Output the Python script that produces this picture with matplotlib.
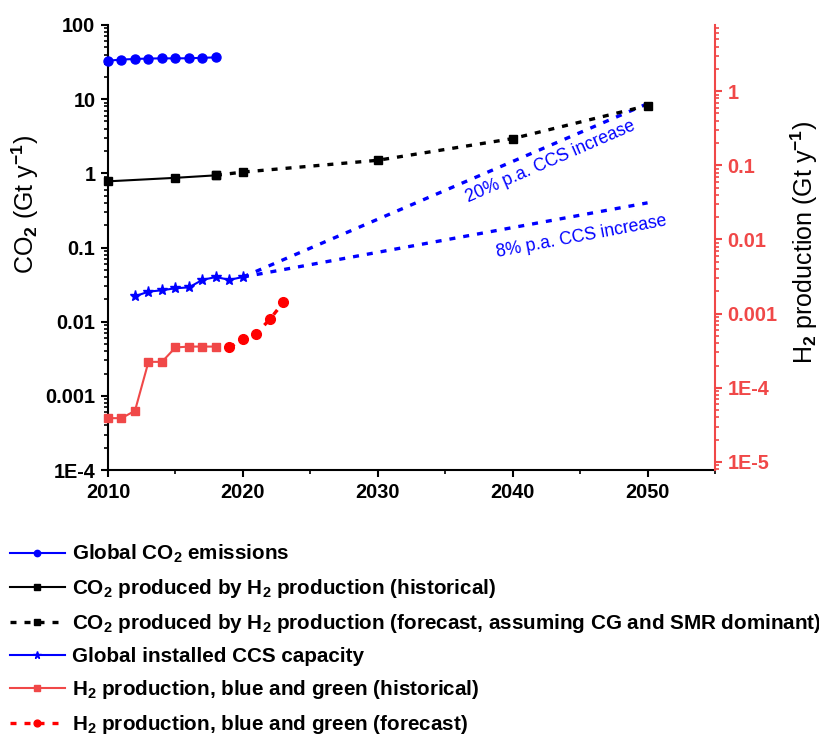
import matplotlib
matplotlib.use('Agg')
import matplotlib.pyplot as plt
from matplotlib.ticker import LogLocator, NullFormatter, MultipleLocator

plt.rcParams['font.family'] = ['Liberation Sans', 'DejaVu Sans']
plt.rcParams['font.weight'] = 'bold'
plt.rcParams['mathtext.fontset'] = 'custom'
plt.rcParams['mathtext.rm'] = 'Liberation Sans'
plt.rcParams['mathtext.bf'] = 'Liberation Sans:bold'
plt.rcParams['mathtext.it'] = 'Liberation Sans:italic'

# ---------------- data ----------------
years_emis = [2010, 2011, 2012, 2013, 2014, 2015, 2016, 2017, 2018]
co2_emis = [33.0, 34.2, 34.8, 35.3, 35.5, 35.5, 35.6, 36.1, 36.6]

years_h2co2_hist = [2010, 2015, 2018]
h2co2_hist = [0.78, 0.87, 0.94]

years_h2co2_fc = [2018, 2020, 2030, 2040, 2050]
h2co2_fc = [0.94, 1.04, 1.5, 2.94, 8.2]

years_ccs = [2012, 2013, 2014, 2015, 2016, 2017, 2018, 2019, 2020]
ccs_cap = [0.022, 0.0254, 0.0265, 0.0282, 0.029, 0.0366, 0.040, 0.0366, 0.040]

years_ccs_fc = [2020, 2050]
ccs_20pct = [0.040, 8.7]
ccs_8pct = [0.040, 0.40]

years_h2_hist = [2010, 2011, 2012, 2013, 2014, 2015, 2016, 2017, 2018]
h2_hist = [3.9e-5, 3.9e-5, 4.9e-5, 2.24e-4, 2.24e-4, 3.5e-4, 3.6e-4, 3.6e-4, 3.6e-4]

years_h2_fc = [2019, 2020, 2021, 2022, 2023]
h2_fc = [3.5e-4, 4.5e-4, 5.4e-4, 8.4e-4, 1.42e-3]

x_ticks = [2010, 2020, 2030, 2040, 2050]
x_tick_labels = ['2010', '2020', '2030', '2040', '2050']
left_ticks = [1e-4, 1e-3, 1e-2, 1e-1, 1, 10, 100]
left_tick_labels = ['1E-4', '0.001', '0.01', '0.1', '1', '10', '100']
right_ticks = [1e-5, 1e-4, 1e-3, 1e-2, 1e-1, 1]
right_tick_labels = ['1E-5', '1E-4', '0.001', '0.01', '0.1', '1']

labels = [
    r'Global CO$_\mathbf{2}$ emissions',
    r'CO$_\mathbf{2}$ produced by H$_\mathbf{2}$ production (historical)',
    r'CO$_\mathbf{2}$ produced by H$_\mathbf{2}$ production (forecast, assuming CG and SMR dominant)',
    'Global installed CCS capacity',
    r'H$_\mathbf{2}$ production, blue and green (historical)',
    r'H$_\mathbf{2}$ production, blue and green (forecast)',
]

# ---------------- figure ----------------
BLUE = '#0000FF'
RED_H = '#F04848'
RED_F = '#FF0000'
dash = (0, (1.8, 2.4))

fig = plt.figure(figsize=(8.2, 7.35), dpi=100)
ax = fig.add_axes([108 / 820, 1 - 470 / 735, (715 - 108) / 820, 445 / 735])
ax2 = ax.twinx()

h1, = ax.plot(years_emis, co2_emis, color=BLUE, lw=1.5, marker='o', ms=6.5,
              clip_on=False, label=labels[0], zorder=5)
h2, = ax.plot(years_h2co2_hist, h2co2_hist, color='black', lw=1.5, marker='s', ms=6,
              clip_on=False, label=labels[1], zorder=5)
h3, = ax.plot(years_h2co2_fc, h2co2_fc, color='black', lw=2.4, ls=dash, marker='s', ms=6,
              clip_on=False, label=labels[2], zorder=4)
h4, = ax.plot(years_ccs, ccs_cap, color=BLUE, lw=1.5, marker='*', ms=8,
              clip_on=False, label=labels[3], zorder=5)
ax.plot(years_ccs_fc, ccs_20pct, color=BLUE, lw=2.4, ls=dash, zorder=3)
ax.plot(years_ccs_fc, ccs_8pct, color=BLUE, lw=2.4, ls=dash, zorder=3)

h5, = ax2.plot(years_h2_hist, h2_hist, color=RED_H, lw=1.5, marker='s', ms=6,
               clip_on=False, label=labels[4], zorder=5)
h6, = ax2.plot(years_h2_fc, h2_fc, color=RED_F, lw=2.4, ls=dash, marker='o', ms=7,
               clip_on=False, label=labels[5], zorder=5)

# annotations
ax.text(2042.8, 1.42, '20% p.a. CCS increase', color=BLUE, fontsize=12.7,
        fontweight='normal', rotation=23.5, ha='center', va='center',
        rotation_mode='anchor')
ax.text(2045.1, 0.141, '8% p.a. CCS increase', color=BLUE, fontsize=12.7,
        fontweight='normal', rotation=10.6, ha='center', va='center',
        rotation_mode='anchor')

# axes styling
ax.set_xlim(2010, 2055)
ax.set_yscale('log')
ax.set_ylim(1e-4, 100)
ax2.set_yscale('log')
ax2.set_ylim(7.8e-6, 7.8)

ax.set_xticks(x_ticks, x_tick_labels)
ax.xaxis.set_minor_locator(MultipleLocator(5))
ax.set_yticks(left_ticks, left_tick_labels)
ax.yaxis.set_minor_locator(LogLocator(base=10, subs=range(2, 10), numticks=20))
ax.yaxis.set_minor_formatter(NullFormatter())
ax2.set_yticks(right_ticks, right_tick_labels)
ax2.yaxis.set_minor_locator(LogLocator(base=10, subs=range(2, 10), numticks=20))
ax2.yaxis.set_minor_formatter(NullFormatter())

for s in ['top', 'right']:
    ax.spines[s].set_visible(False)
for s in ['top', 'left', 'bottom']:
    ax2.spines[s].set_visible(False)
ax.spines['left'].set_linewidth(1.5)
ax.spines['bottom'].set_linewidth(1.5)
ax2.spines['right'].set_linewidth(1.5)
ax2.spines['right'].set_color(RED_H)

ax.tick_params(which='major', direction='out', length=5, width=1.5, labelsize=14.3, pad=4)
ax.tick_params(which='minor', direction='out', length=3, width=1.2)
ax2.tick_params(which='major', direction='out', length=5, width=1.5, labelsize=14.3, pad=4,
                color=RED_H, labelcolor=RED_H)
ax2.tick_params(which='minor', direction='out', length=3, width=1.2, color=RED_H)

ax.set_ylabel(r'CO$_2$ (Gt y$^{-1}$)', fontsize=18, fontweight='normal')
ax.yaxis.set_label_coords(-0.11, 0.596)
ax2.set_ylabel(r'H$_2$ production (Gt y$^{-1}$)', fontsize=18, fontweight='normal',
               rotation=90)
ax2.yaxis.set_label_coords(1.122, 0.512)

fig.legend(handles=[h1, h2, h3, h4, h5, h6], loc='upper left',
           bbox_to_anchor=(10 / 820, 1 - 543 / 735), frameon=False,
           fontsize=14.9, handlelength=2.65, handletextpad=0.33,
           labelspacing=0.575, borderpad=0, borderaxespad=0, markerscale=0.7)

fig.savefig('out.png', dpi=100)
